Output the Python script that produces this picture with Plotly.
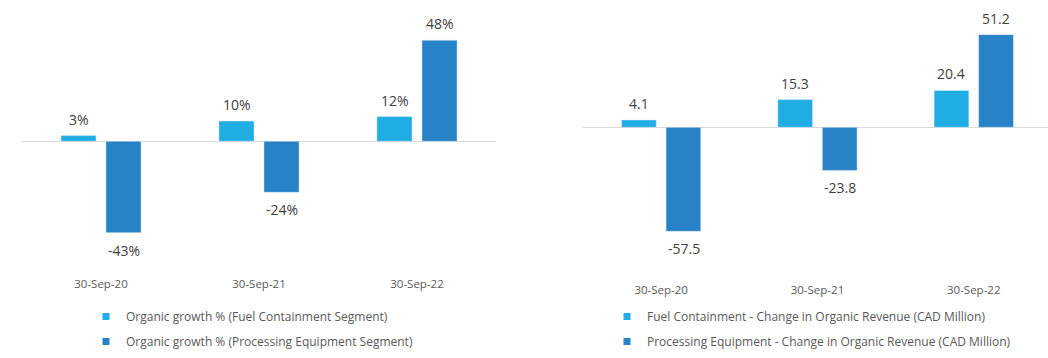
import plotly.graph_objects as go

categories = ["30-Sep-20", "30-Sep-21", "30-Sep-22"]

# Left chart: organic growth %
fuel_growth_pct = [2.7, 9.6, 11.7]
proc_growth_pct = [-43.3, -24.2, 47.9]

# Right chart: change in organic revenue (CAD Million)
fuel_rev_change = [4.1, 15.3, 20.4]
proc_rev_change = [-57.5, -23.8, 51.2]

LIGHT = "#1FADE4"
DARK = "#2782C6"
FONT = "Open Sans"

W, H = 1048, 358

fig = go.Figure()

# Left chart bars
fig.add_trace(go.Bar(x=categories, y=fuel_growth_pct, marker_color=LIGHT,
                     xaxis="x", yaxis="y", showlegend=False))
fig.add_trace(go.Bar(x=categories, y=proc_growth_pct, marker_color=DARK,
                     xaxis="x", yaxis="y", showlegend=False))
# Right chart bars
fig.add_trace(go.Bar(x=categories, y=fuel_rev_change, marker_color=LIGHT,
                     xaxis="x2", yaxis="y2", showlegend=False))
fig.add_trace(go.Bar(x=categories, y=proc_rev_change, marker_color=DARK,
                     xaxis="x2", yaxis="y2", showlegend=False))

# Legend entries
legend_specs = [
    ("Organic growth % (Fuel Containment Segment)", LIGHT, "legend", "a"),
    ("Organic growth % (Processing Equipment Segment)", DARK, "legend", "b"),
    ("Fuel Containment - Change in Organic Revenue (CAD Million)", LIGHT, "legend2", "c"),
    ("Processing Equipment - Change in Organic Revenue (CAD Million)", DARK, "legend2", "d"),
]
for name, col, leg, grp in legend_specs:
    fig.add_trace(go.Scatter(x=[None], y=[None], mode="markers", name=name,
                             marker=dict(symbol="square", size=7, color=col),
                             legend=leg, legendgroup=grp,
                             xaxis="x" if leg == "legend" else "x2",
                             yaxis="y" if leg == "legend" else "y2"))

annotations = []
def add_labels(values, xref, yref, side, shift, fmt):
    for c, v in zip(categories, values):
        annotations.append(dict(
            x=c, y=v, xref=xref, yref=yref, text=fmt(v), showarrow=False,
            xshift=side * shift, yanchor="bottom" if v >= 0 else "top",
            yshift=5 if v >= 0 else -6,
            font=dict(family=FONT, size=14, color="#404040")))

add_labels(fuel_growth_pct, "x", "y", -1, 22.5, lambda v: f"{v:.0f}%")
add_labels(proc_growth_pct, "x", "y", 1, 22.5, lambda v: f"{v:.0f}%")
add_labels(fuel_rev_change, "x2", "y2", -1, 22.6, lambda v: f"{v:.1f}")
add_labels(proc_rev_change, "x2", "y2", 1, 22.6, lambda v: f"{v:.1f}")

axis_font = dict(family=FONT, size=11.5, color="#595959")

def ypix(top_px):
    return (H - top_px) / H

# left: zero at 141.3, 2.11 px/unit, range [-60, 60]
l_top = 141.3 - 60 * 2.11
l_bot = 141.3 + 60 * 2.11
# right: zero at 127.3, 1.81 px/unit, range [-70, 70]
r_top = 127.3 - 70 * 1.81
r_bot = 127.3 + 70 * 1.81

cat_w_r = 156.3
r_left = 583.0
r_range_end = -0.5 + (W - r_left) / cat_w_r

legend_font = dict(family=FONT, size=12, color="#595959")

fig.update_layout(
    width=W, height=H,
    margin=dict(l=0, r=0, t=0, b=0),
    paper_bgcolor="white", plot_bgcolor="white",
    barmode="group", bargap=0.43, bargroupgap=0.22,
    font=dict(family=FONT, color="#595959"),
    xaxis=dict(domain=[22 / W, 496 / W], range=[-0.5, 2.5], showgrid=False,
               showline=False, zeroline=False, ticks="", tickfont=axis_font,
               anchor="y", ticklabelstandoff=8),
    yaxis=dict(domain=[ypix(l_bot), ypix(l_top)], range=[-60, 60],
               showgrid=False, showticklabels=False, zeroline=True,
               zerolinecolor="#D9D9D9", zerolinewidth=1, anchor="x"),
    xaxis2=dict(domain=[r_left / W, 1.0], range=[-0.5, r_range_end],
                showgrid=False, showline=False, zeroline=False, ticks="",
                tickfont=axis_font, anchor="y2", ticklabelstandoff=27),
    yaxis2=dict(domain=[ypix(r_bot), ypix(r_top)], range=[-70, 70],
                showgrid=False, showticklabels=False, zeroline=True,
                zerolinecolor="#D9D9D9", zerolinewidth=1, anchor="x2"),
    legend=dict(x=86 / W, y=ypix(302), xanchor="left", yanchor="top",
                font=legend_font, traceorder="grouped", tracegroupgap=6,
                itemwidth=30, bgcolor="rgba(0,0,0,0)"),
    legend2=dict(x=607 / W, y=ypix(302), xanchor="left", yanchor="top",
                 font=legend_font, traceorder="grouped", tracegroupgap=6,
                 itemwidth=30, bgcolor="rgba(0,0,0,0)"),
    annotations=annotations,
)

fig.write_html("out.html", config={"displayModeBar": False},
               post_script="document.body.style.margin='0';document.body.style.overflow='hidden';")
